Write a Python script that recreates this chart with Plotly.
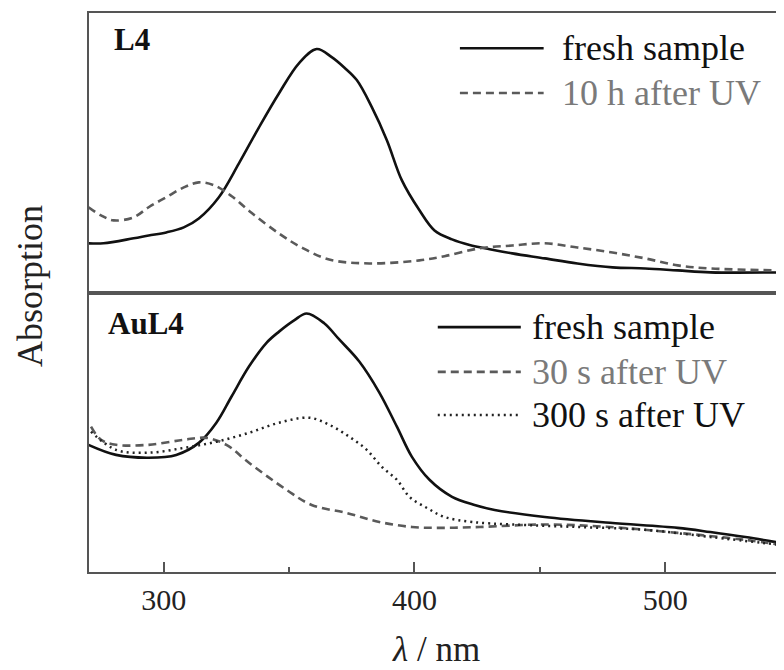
import plotly.graph_objects as go

# ---------------- data (arbitrary absorbance units) ----------------
# L4 panel
l4_fresh_x = [270, 276, 288, 294, 301, 308, 314, 322, 330, 338, 346, 354, 361, 367, 372, 377, 383,
              389, 395, 402, 408, 415, 422, 430, 439, 452, 465, 479, 492, 505, 518, 546]
l4_fresh_y = [0.176, 0.176, 0.194, 0.204, 0.215, 0.233, 0.265, 0.341, 0.462, 0.591, 0.713, 0.821,
              0.871, 0.842, 0.805, 0.760, 0.663, 0.545, 0.401, 0.294, 0.222, 0.190, 0.170, 0.155,
              0.140, 0.122, 0.104, 0.090, 0.086, 0.079, 0.072, 0.072]

l4_uv_x = [270, 275, 280, 288, 294, 301, 308, 314, 320, 327, 335, 346, 355, 366, 382, 402, 412,
           426, 439, 452, 465, 479, 492, 505, 518, 546]
l4_uv_y = [0.305, 0.276, 0.258, 0.269, 0.305, 0.341, 0.376, 0.394, 0.384, 0.345, 0.285, 0.211,
           0.161, 0.118, 0.104, 0.115, 0.130, 0.158, 0.168, 0.176, 0.161, 0.143, 0.122, 0.097,
           0.086, 0.079]

# AuL4 panel
aul4_fresh_x = [270, 281, 294, 305, 314, 321, 327, 334, 341, 346, 352, 357, 364, 370, 378, 386,
                393, 399, 406, 415, 424, 432, 452, 478, 505, 518, 532, 546]
aul4_fresh_y = [0.455, 0.419, 0.409, 0.419, 0.462, 0.534, 0.627, 0.735, 0.820, 0.860, 0.900, 0.925,
                0.890, 0.832, 0.753, 0.642, 0.520, 0.412, 0.330, 0.269, 0.240, 0.222, 0.197, 0.176,
                0.158, 0.143, 0.125, 0.104]

aul4_30s_x = [271, 275, 281, 294, 308, 317, 325, 334, 349, 359, 373, 386, 399, 412, 426, 452, 478,
              505, 532, 546]
aul4_30s_y = [0.520, 0.473, 0.455, 0.455, 0.473, 0.480, 0.455, 0.391, 0.294, 0.240, 0.211, 0.179,
              0.161, 0.158, 0.161, 0.170, 0.161, 0.140, 0.115, 0.097]

aul4_300s_x = [271, 281, 294, 308, 321, 334, 346, 358, 366, 374, 381, 387, 393, 398, 405, 412,
               423, 439, 465, 492, 518, 546]
aul4_300s_y = [0.502, 0.437, 0.427, 0.444, 0.466, 0.498, 0.534, 0.552, 0.527, 0.484, 0.437, 0.376,
               0.330, 0.269, 0.229, 0.197, 0.179, 0.170, 0.161, 0.151, 0.125, 0.097]

x_ticks = [300, 400, 500]
panel_labels = ["L4", "AuL4"]
top_legend = ["fresh sample", "10 h after UV"]
bottom_legend = ["fresh sample", "30 s after UV", "300 s after UV"]

# ---------------- styles ----------------
FONT = "Liberation Serif, Times New Roman, DejaVu Serif, serif"
BLACK = "#111111"
GRAY = "#5a5a5a"
GRAYTXT = "#7a7a7a"
FRAME = "#555555"
SOLID = dict(color=BLACK, width=2.6)
DASHED = dict(color=GRAY, width=2.6, dash="8px,5px")
DOTTED = dict(color="#222222", width=2.5, dash="2px,4px")

fig = go.Figure()

fig.add_trace(go.Scatter(x=l4_fresh_x, y=l4_fresh_y, mode="lines", line=SOLID, line_shape="spline",
                         xaxis="x2", yaxis="y2", showlegend=False))
fig.add_trace(go.Scatter(x=l4_uv_x, y=l4_uv_y, mode="lines", line=DASHED, line_shape="spline",
                         xaxis="x2", yaxis="y2", showlegend=False))
fig.add_trace(go.Scatter(x=aul4_fresh_x, y=aul4_fresh_y, mode="lines", line=SOLID, line_shape="spline",
                         xaxis="x", yaxis="y", showlegend=False))
fig.add_trace(go.Scatter(x=aul4_30s_x, y=aul4_30s_y, mode="lines", line=DASHED, line_shape="spline",
                         xaxis="x", yaxis="y", showlegend=False))
fig.add_trace(go.Scatter(x=aul4_300s_x, y=aul4_300s_y, mode="lines", line=DOTTED, line_shape="spline",
                         xaxis="x", yaxis="y", showlegend=False))

xr = [270.2, 546.2]
axis_common = dict(showline=True, linecolor=FRAME, linewidth=1.5, mirror=True, showgrid=False,
                   zeroline=False)

# page has an 8px body margin, so the figure is 8px smaller and margins shifted
fig.update_layout(
    width=776, height=662,
    margin=dict(l=81, r=1, t=5, b=98),
    paper_bgcolor="white", plot_bgcolor="white",
    font=dict(family=FONT, color=BLACK),
    xaxis=dict(domain=[0, 1], range=xr, anchor="y", tickmode="array", tickvals=x_ticks,
               ticks="inside", ticklen=10, tickwidth=1.5, tickcolor=FRAME,
               minor=dict(ticks="inside", ticklen=5, tickwidth=1.5, tickcolor=FRAME, dtick=50, tick0=300),
               tickfont=dict(size=30, family=FONT, color="#222222"), **axis_common),
    yaxis=dict(domain=[0, 0.5], range=[0, 1], showticklabels=False, ticks="", **axis_common),
    xaxis2=dict(domain=[0, 1], range=xr, anchor="y2", showticklabels=False, ticks="", **axis_common),
    yaxis2=dict(domain=[0.5, 1], range=[0, 1], anchor="x2", showticklabels=False, ticks="", **axis_common),
)

annotations = []
shapes = []

# axis titles
annotations.append(dict(text="Absorption", xref="paper", yref="paper", x=-0.085, y=0.512,
                        xanchor="center", yanchor="middle", textangle=-90, showarrow=False,
                        font=dict(size=36, family=FONT, color="#222222")))
annotations.append(dict(text="<i>λ</i> / nm", xref="paper", yref="paper", x=0.501, y=-0.1745,
                        xanchor="center", yanchor="bottom", showarrow=False, borderpad=0,
                        font=dict(size=35, family=FONT, color="#222222")))

# panel labels
annotations.append(dict(text="<b>%s</b>" % panel_labels[0], xref="paper", yref="paper", x=0.033, y=0.952,
                        xanchor="left", yanchor="middle", showarrow=False,
                        font=dict(size=31, family=FONT, color=BLACK)))
annotations.append(dict(text="<b>%s</b>" % panel_labels[1], xref="paper", yref="paper", x=0.024, y=0.4445,
                        xanchor="left", yanchor="middle", showarrow=False,
                        font=dict(size=31, family=FONT, color=BLACK)))

# legends (drawn manually so samples can be long)
def legend_row(x0, x1, xt, y, line, label, color):
    shapes.append(dict(type="line", xref="paper", yref="paper", x0=x0, x1=x1, y0=y, y1=y, line=line))
    annotations.append(dict(text=label, xref="paper", yref="paper", x=xt, y=y, xanchor="left",
                            yanchor="middle", showarrow=False,
                            font=dict(size=36, family=FONT, color=color)))

legend_row(0.536, 0.657, 0.680, 0.937, SOLID, top_legend[0], BLACK)
legend_row(0.536, 0.657, 0.680, 0.857, DASHED, top_legend[1], GRAYTXT)
legend_row(0.504, 0.624, 0.637, 0.438, SOLID, bottom_legend[0], BLACK)
legend_row(0.504, 0.624, 0.637, 0.358, DASHED, bottom_legend[1], GRAYTXT)
legend_row(0.504, 0.624, 0.637, 0.281, DOTTED, bottom_legend[2], BLACK)

fig.update_layout(annotations=annotations, shapes=shapes)

fig.write_html("out.html")
